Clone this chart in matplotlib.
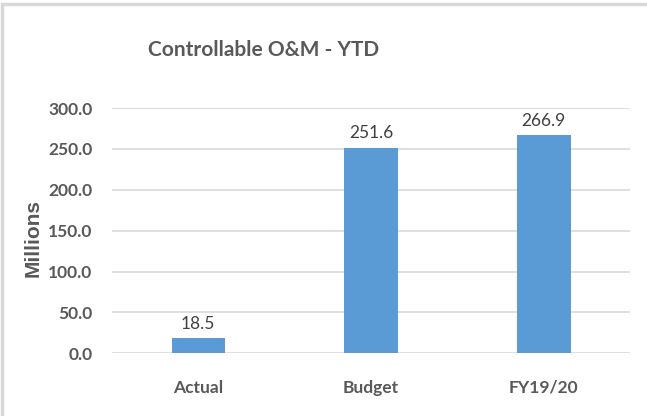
import matplotlib
matplotlib.use('Agg')
import matplotlib.pyplot as plt
from matplotlib.patches import Rectangle

categories = ['Actual', 'Budget', 'FY19/20']
values = [18.5, 251.6, 266.9]
yticks = [0, 50, 100, 150, 200, 250, 300]

narrow = ['Lato', 'DejaVu Sans']
grey = '#595959'

fig = plt.figure(figsize=(6.47, 4.16), dpi=100)
ax = fig.add_axes([0.173, 0.151, 0.801, 0.589])

ax.bar(range(len(categories)), values, width=0.31, color='#5b9bd5', zorder=3)
for i, v in enumerate(values):
    ax.text(i, v + 8, f'{v:.1f}', ha='center', va='bottom', fontsize=12.5,
            color='#404040', family=narrow)

ax.set_xlim(-0.5, len(categories) - 0.5)
ax.set_ylim(0, 300)
ax.set_yticks(yticks)
ax.set_yticklabels([f'{t:.1f}' for t in yticks], family=narrow, fontsize=12.5,
                   fontweight='bold', color=grey)
ax.set_xticks(range(len(categories)))
ax.set_xticklabels(categories, family=narrow, fontsize=12.5, fontweight='bold', color=grey)
ax.tick_params(axis='both', length=0)
ax.tick_params(axis='x', pad=19)
ax.tick_params(axis='y', pad=14)
ax.grid(axis='y', color='#d9d9d9', linewidth=1.2, zorder=0)
for s in ax.spines.values():
    s.set_visible(False)

ax.set_ylabel('Millions', fontsize=15, fontweight='bold', color=grey,
              family=['Liberation Sans', 'DejaVu Sans'])
ax.yaxis.set_label_coords(-0.134, 0.47)

fig.text(0.407, 0.88, 'Controllable O&M - YTD', ha='center', va='center',
         fontsize=15, fontweight='bold', family=narrow, color=grey)

fig.patches.append(Rectangle((0.003, -0.01), 1.1, 1.0, transform=fig.transFigure,
                             fill=False, edgecolor='#d9d9d9', linewidth=2.5))

fig.savefig('out.png', dpi=100)
